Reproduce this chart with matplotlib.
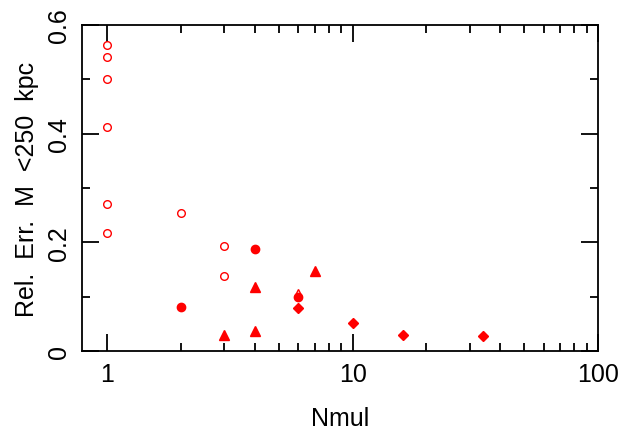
import matplotlib
matplotlib.use("Agg")
import matplotlib.pyplot as plt
from matplotlib.ticker import MultipleLocator, FixedLocator, NullFormatter, FixedFormatter

plt.rcParams['font.family'] = ['Liberation Sans', 'DejaVu Sans']

oc_x = [1, 1, 1, 1, 1, 1, 2, 3, 3]
oc_y = [0.563, 0.541, 0.501, 0.412, 0.271, 0.217, 0.254, 0.193, 0.138]
fc_x = [2, 4, 6]
fc_y = [0.081, 0.188, 0.099]
ft_x = [3, 4, 4, 7]
ft_y = [0.030, 0.037, 0.118, 0.147]
ot_x = [6]
ot_y = [0.107]
fd_x = [6, 10, 16, 34]
fd_y = [0.079, 0.052, 0.029, 0.028]

fig = plt.figure(figsize=(6.23, 4.39), dpi=100)
ax = fig.add_axes([82/623, 1-352/439, 516/623, 326/439])
c = 'red'
ax.plot(oc_x, oc_y, 'o', mfc='none', mec=c, ms=5.5, mew=1)
ax.plot(fc_x, fc_y, 'o', color=c, ms=6)
ax.plot(ft_x, ft_y, '^', color=c, ms=6.5)
ax.plot(ot_x, ot_y, '^', mfc='none', mec=c, ms=6, mew=1)
ax.plot(fd_x, fd_y, 'D', color=c, ms=5.5)
ax.set_xscale('log')
ax.set_xlim(0.79, 100)
ax.set_ylim(0, 0.6)
ax.xaxis.set_major_locator(FixedLocator([1, 10, 100]))
ax.xaxis.set_major_formatter(FixedFormatter(['1', '10', '100']))
ax.xaxis.set_minor_locator(FixedLocator([m*d for d in (1, 10) for m in range(2, 10)]))
ax.xaxis.set_minor_formatter(NullFormatter())
ax.yaxis.set_minor_locator(MultipleLocator(0.1))
ax.set_yticks([0, 0.2, 0.4, 0.6])
ax.set_yticklabels(['0', '0.2', '0.4', '0.6'], rotation=90, va='center')
ax.tick_params(which='both', direction='in', top=True, right=True, labelsize=18, width=1.3)
ax.tick_params(which='major', length=12, pad=8)
ax.tick_params(which='minor', length=6)
for s in ax.spines.values():
    s.set_linewidth(1.3)
ax.set_xlabel('Nmul', fontsize=18, labelpad=14)
ax.set_ylabel('Rel.  Err.  M  <250  kpc', fontsize=18, labelpad=6)
fig.savefig('out.png', dpi=100)
